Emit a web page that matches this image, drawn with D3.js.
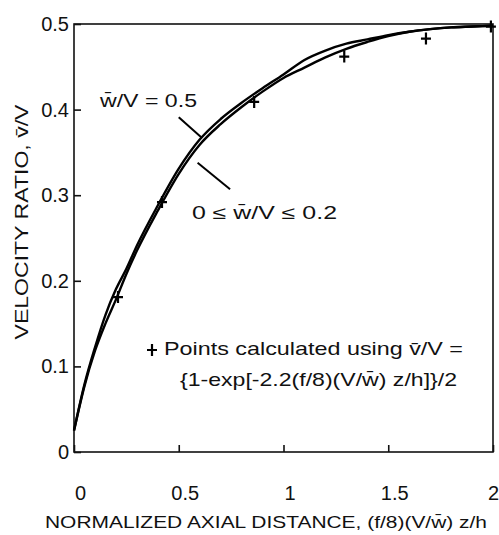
<!DOCTYPE html>
<html>
<head>
<meta charset="utf-8">
<script src="https://cdn.jsdelivr.net/npm/d3@7"></script>
<style>
  body { margin: 0; background: #fff; }
  text { font-family: "Liberation Sans", Arial, Helvetica, sans-serif; fill: #111; }
</style>
</head>
<body>
<div id="chart"></div>
<script>
// distance along the axis, (f/8)(V/w) z/h
const xs = [0, 0.05, 0.1, 0.15, 0.2, 0.25, 0.3, 0.4, 0.5, 0.6, 0.7, 0.8, 0.9, 1.0, 1.1, 1.2, 1.3, 1.4, 1.5, 1.6, 1.7, 1.8, 1.9, 2.0]
// w/V = 0.5 curve (upper)
const curveHigh = [0.025, 0.079, 0.122, 0.160, 0.190, 0.214, 0.241, 0.288, 0.331, 0.365, 0.389, 0.408, 0.425, 0.441, 0.458, 0.469, 0.477, 0.482, 0.487, 0.491, 0.494, 0.496, 0.497, 0.498]
// 0 <= w/V <= 0.2 curve (lower)
const curveLow = [0.025, 0.077, 0.118, 0.150, 0.178, 0.208, 0.235, 0.282, 0.325, 0.359, 0.383, 0.403, 0.421, 0.437, 0.449, 0.461, 0.471, 0.479, 0.486, 0.491, 0.494, 0.496, 0.497, 0.498]
// "+" points from (1-exp[-2.2(f/8)(V/w) z/h])/2
const ptX = [0.21, 0.42, 0.86, 1.29, 1.68, 1.99]
const ptY = [0.181, 0.292, 0.409, 0.462, 0.483, 0.497]

const xTicks = [0, 0.5, 1, 1.5, 2]
const yTicks = [0, 0.1, 0.2, 0.3, 0.4, 0.5]

const width = 499, height = 535

const x = d3.scaleLinear().domain([0, 2]).range([74, 493])
const y = d3.scaleLinear().domain([0, 0.5]).range([452, 24])

const svg = d3.select("#chart").append("svg")
  .attr("width", width)
  .attr("height", height)

// frame
svg.append("rect")
  .attr("x", x(0)).attr("y", y(0.5))
  .attr("width", x(2) - x(0)).attr("height", y(0) - y(0.5))
  .attr("fill", "none").attr("stroke", "#111").attr("stroke-width", 1.6)

const fmt = d => d === 0 ? "0" : d3.format("")(d)

const gx = svg.append("g")
  .attr("transform", `translate(0,${y(0)})`)
  .call(d3.axisBottom(x).tickValues(xTicks).tickSize(-7).tickPadding(34).tickFormat(fmt))
gx.select(".domain").remove()
gx.selectAll("line").attr("stroke", "#111").attr("stroke-width", 1.6)
// labels sit a little right of their ticks in the original; the last one keeps inside the page
gx.selectAll("text").attr("dx", d => d === 2 ? 0 : 6).style("font-size", "20px")

const gy = svg.append("g")
  .attr("transform", `translate(${x(0)},0)`)
  .call(d3.axisLeft(y).tickValues(yTicks).tickSize(-7).tickPadding(5).tickFormat(fmt))
gy.select(".domain").remove()
gy.selectAll("line").attr("stroke", "#111").attr("stroke-width", 1.6)
gy.selectAll("text").style("font-size", "20px")

// curves
const line = d3.line()
  .x(d => x(d[0]))
  .y(d => y(d[1]))
  .curve(d3.curveMonotoneX)

;[curveHigh, curveLow].forEach(vals => {
  svg.append("path")
    .datum(xs.map((v, i) => [v, vals[i]]))
    .attr("d", line)
    .attr("fill", "none")
    .attr("stroke", "#000")
    .attr("stroke-width", 2.4)
})

// plus markers
const pts = ptX.map((v, i) => [v, ptY[i]])
svg.append("g").selectAll("path")
  .data(pts)
  .enter().append("path")
    .attr("d", d => {
      const cx = x(d[0]), cy = y(d[1])
      return `M${cx - 5},${cy}H${cx + 5}M${cx},${cy - 6}V${cy + 6}`
    })
    .attr("stroke", "#000")
    .attr("stroke-width", 2.2)

// curve labels and leader lines
svg.append("text")
  .attr("x", 100).attr("y", 107)
  .attr("textLength", 97).attr("lengthAdjust", "spacingAndGlyphs")
  .style("font-size", "18px")
  .text("w\u0304/V = 0.5")

svg.append("text")
  .attr("x", 192).attr("y", 219)
  .attr("textLength", 145).attr("lengthAdjust", "spacingAndGlyphs")
  .style("font-size", "18px")
  .text("0 \u2264 w\u0304/V \u2264 0.2")

const leaders = [[0.50, 0.391, 0.61, 0.367], [0.59, 0.338, 0.745, 0.307]]
svg.append("g").selectAll("line")
  .data(leaders)
  .enter().append("line")
    .attr("x1", d => x(d[0])).attr("y1", d => y(d[1]))
    .attr("x2", d => x(d[2])).attr("y2", d => y(d[3]))
    .attr("stroke", "#000").attr("stroke-width", 2)

// legend
svg.append("path")
  .attr("d", "M147,350H157M152,344V356")
  .attr("stroke", "#000").attr("stroke-width", 2.2)

svg.append("text")
  .attr("x", 164).attr("y", 355)
  .attr("textLength", 299).attr("lengthAdjust", "spacingAndGlyphs")
  .style("font-size", "19px")
  .text("Points calculated using v\u0304/V =")

svg.append("text")
  .attr("x", 180).attr("y", 386)
  .attr("textLength", 277).attr("lengthAdjust", "spacingAndGlyphs")
  .style("font-size", "19px")
  .text("{1-exp[-2.2(f/8)(V/w\u0304) z/h]}/2")

// axis titles
svg.append("text")
  .attr("x", 45).attr("y", 528)
  .attr("textLength", 442).attr("lengthAdjust", "spacingAndGlyphs")
  .style("font-size", "17px")
  .text("NORMALIZED AXIAL DISTANCE, (f/8)(V/w\u0304) z/h")

svg.append("text")
  .attr("transform", "translate(28,222) rotate(-90)")
  .attr("text-anchor", "middle")
  .attr("textLength", 235).attr("lengthAdjust", "spacingAndGlyphs")
  .style("font-size", "19px")
  .text("VELOCITY RATIO, v\u0304/V")
</script>
</body>
</html>
